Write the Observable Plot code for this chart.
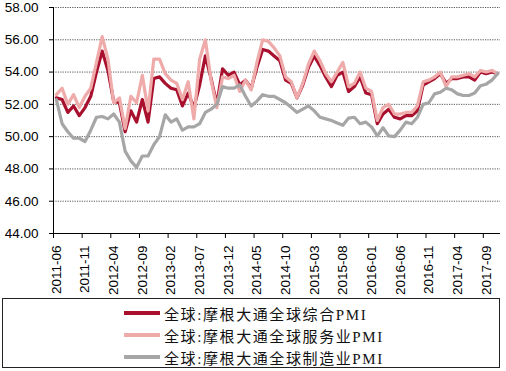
<!DOCTYPE html>
<html><head><meta charset="utf-8">
<script src="https://cdn.jsdelivr.net/npm/d3@7"></script>
<script src="https://cdn.jsdelivr.net/npm/@observablehq/plot@0.6"></script>
<style>
body{margin:0;background:#fff;font-family:"Liberation Sans",Arial,sans-serif;}
#chart svg{display:block;}
#legend{position:absolute;left:2px;top:298px;width:498px;height:70px;border:1px solid #222;box-sizing:border-box;}
.row{position:absolute;left:121px;height:22px;display:flex;align-items:center;font-family:"Liberation Serif","Noto Sans CJK SC",serif;font-size:15px;letter-spacing:1.6px;color:#111;}
.sw{width:36px;height:4px;margin-right:4px;}
</style></head>
<body>
<div id="chart"></div>
<div id="legend"></div>
<script>
const startYear = 2011, startMonth = 6, nMonths = 78;
const months = [];
for (let k = 0; k < nMonths; k++) {
  const m = startMonth - 1 + k;
  months.push(`${startYear + Math.floor(m / 12)}-${String(m % 12 + 1).padStart(2, "0")}`);
}
const seriesNames = ["全球:摩根大通全球综合PMI", "全球:摩根大通全球服务业PMI", "全球:摩根大通全球制造业PMI"];
const seriesColors = ["#A8102E", "#EFAAAA", "#A6A6A6"];
const composite = [52.4,52.3,51.5,51.9,51.3,51.8,52.5,54.0,55.3,54.1,52.2,52.1,50.3,51.6,50.9,52.3,50.9,53.6,53.7,53.3,
  53.0,52.9,51.9,52.7,51.8,53.2,55.0,53.6,52.0,54.2,53.8,54.0,53.2,53.5,53.0,54.3,55.4,55.3,55.0,54.7,
  53.5,53.3,52.4,53.2,54.3,55.0,54.4,53.7,53.1,53.8,54.0,52.8,53.1,53.7,52.7,52.6,50.8,51.4,51.7,51.2,
  51.1,51.3,51.3,51.6,53.2,53.4,53.6,53.9,53.3,53.6,53.6,53.7,53.7,53.5,54.0,53.9,54.0,53.9];
const services = [52.6,53.0,52.0,52.6,51.8,52.5,53.0,54.6,56.2,54.8,52.1,52.4,50.5,52.5,52.1,53.8,51.6,54.8,54.8,53.9,
  53.5,53.3,52.3,53.4,51.1,54.8,56.0,53.5,51.8,53.7,53.6,53.8,52.8,53.5,52.9,54.6,56.0,55.9,55.5,55.0,
  53.7,53.4,52.4,53.3,54.5,55.3,54.7,53.9,53.4,54.0,54.6,53.1,53.3,54.0,53.0,52.8,51.0,51.8,52.0,51.4,
  51.4,51.5,51.5,51.9,53.4,53.5,53.7,54.0,53.1,53.7,53.7,53.8,53.9,53.7,54.1,54.0,54.1,53.9];
const manufacturing = [52.3,50.8,50.3,49.9,49.9,49.7,50.4,51.2,51.25,51.1,51.4,50.9,49.1,48.5,48.1,48.8,48.8,49.5,50.0,51.35,
  50.9,51.1,50.4,50.6,50.6,50.8,51.5,51.7,52.0,53.1,53.0,53.0,53.2,52.5,51.9,52.2,52.6,52.5,52.5,52.3,
  52.1,51.8,51.5,51.7,51.9,51.6,51.2,51.1,51.0,50.85,50.7,51.15,51.2,50.8,50.9,50.6,50.05,50.55,50.05,50.0,
  50.4,50.9,50.8,51.2,52.0,52.1,52.65,52.75,53.0,52.9,52.65,52.55,52.55,52.7,53.15,53.25,53.5,53.9];
const yTicks = [44, 46, 48, 50, 52, 54, 56, 58];
const xTickLabels = ["2011-06","2011-11","2012-04","2012-09","2013-02","2013-07","2013-12","2014-05","2014-10","2015-03","2015-08","2016-01","2016-06","2016-11","2017-04","2017-09"];

const allSeries = [composite, services, manufacturing];
const rows = [];
allSeries.forEach((vals, s) => vals.forEach((v, i) => rows.push({s, i, x: i + 0.5, v})));
const xLabelPos = xTickLabels.map(l => months.indexOf(l));

const chart = Plot.plot({
  width: 506, height: 298,
  marginLeft: 53, marginRight: 6, marginTop: 7, marginBottom: 65,
  style: {fontFamily: "Liberation Sans, Arial, sans-serif", fontSize: "13.5px", color: "#000"},
  x: {domain: [0, nMonths]},
  y: {domain: [44, 58]},
  marks: [
    Plot.ruleY(yTicks.filter(t => t > 44), {stroke: "#555", strokeDasharray: "1.2,1.2", strokeWidth: 1}),
    Plot.axisY({ticks: yTicks, tickFormat: d => d.toFixed(2), tickSize: 4, tickPadding: 11, label: null, fontSize: 13.5}),
    Plot.axisX({ticks: xLabelPos, tickSize: 5, tickFormat: () => "", label: null}),
    Plot.axisX({ticks: xLabelPos.map(p => p + 0.5), tickSize: 0, tickRotate: -90, tickPadding: 12,
      tickFormat: p => months[Math.round(p - 0.5)], label: null, fontSize: 13.5}),
    Plot.ruleY([44], {stroke: "#000"}),
    Plot.ruleX([0], {stroke: "#000"}),
    Plot.line(rows.filter(d => d.s === 0), {x: "x", y: "v", stroke: seriesColors[0], strokeWidth: 3.2}),
    Plot.line(rows.filter(d => d.s === 1), {x: "x", y: "v", stroke: seriesColors[1], strokeWidth: 3.2}),
    Plot.line(rows.filter(d => d.s === 2), {x: "x", y: "v", stroke: seriesColors[2], strokeWidth: 3.2})
  ]
});
document.getElementById("chart").appendChild(chart);

const legend = document.getElementById("legend");
seriesNames.forEach((name, s) => {
  const r = document.createElement("div");
  r.className = "row";
  r.style.top = (3 + s * 22) + "px";
  r.innerHTML = `<span class="sw" style="background:${seriesColors[s]}"></span><span>${name}</span>`;
  legend.appendChild(r);
});
</script>
</body></html>
